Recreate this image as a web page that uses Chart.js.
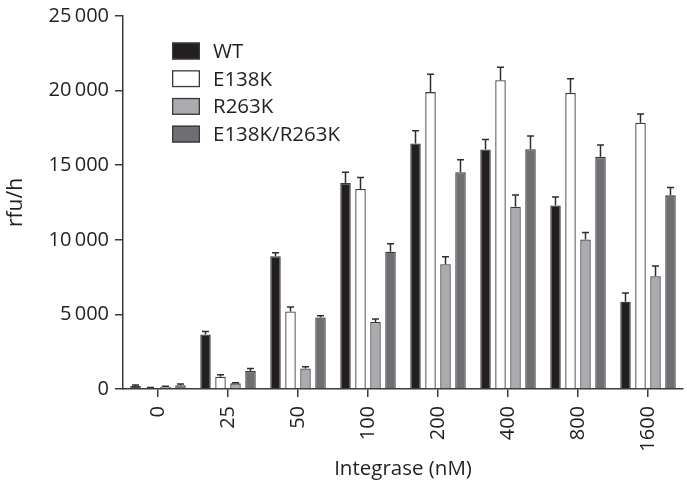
<!DOCTYPE html>
<html>
<head>
<meta charset="utf-8">
<script src="https://cdn.jsdelivr.net/npm/chart.js@4.4.1/dist/chart.umd.min.js"></script>
<style>
  html, body { margin: 0; padding: 0; background: #ffffff; }
  #wrap { position: relative; width: 687px; height: 482px; }
</style>
</head>
<body>
<div id="wrap"><canvas id="c" width="687" height="482"></canvas></div>
<script>
// ---- data ----
const categories = ['0', '25', '50', '100', '200', '400', '800', '1600'];
const seriesNames = ['WT', 'E138K', 'R263K', 'E138K/R263K'];
const wtValues     = [200, 3650, 8900, 13800, 16450, 16050, 12300, 5850];
const wtErrors     = [60, 200, 230, 730, 860, 680, 570, 590];
const e138kValues  = [70, 820, 5200, 13400, 19900, 20700, 19850, 17850];
const e138kErrors  = [30, 130, 290, 780, 1190, 860, 950, 590];
const r263kValues  = [150, 380, 1380, 4490, 8360, 12220, 10020, 7560];
const r263kErrors  = [30, 40, 110, 200, 510, 780, 470, 680];
const doubleValues = [250, 1200, 4800, 9200, 14530, 16070, 15560, 12980];
const doubleErrors = [80, 180, 110, 530, 830, 890, 800, 530];
const yTicks = [0, 5000, 10000, 15000, 20000, 25000];

const fills   = ['#231f20', '#ffffff', '#a9abae', '#6e6f72'];
const border  = '#3a3a3c';
const textCol = '#231f20';
const FONT = "'Open Sans', 'Noto Sans', sans-serif";

function fmt(v) {
  const s = String(Math.round(v));
  if (s.length <= 3) return s;
  return s.slice(0, s.length - 3) + '\u2009' + s.slice(s.length - 3);
}

const valueSets = [wtValues, e138kValues, r263kValues, doubleValues];
const errorSets = [wtErrors, e138kErrors, r263kErrors, doubleErrors];

const datasets = seriesNames.map((name, i) => ({
  label: name,
  data: valueSets[i],
  errors: errorSets[i],
  backgroundColor: fills[i],
  borderColor: border,
  borderWidth: 1.3,
  borderSkipped: 'bottom',
  categoryPercentage: 0.857,
  barPercentage: 0.7
}));

const errorBarPlugin = {
  id: 'errorBars',
  afterDatasetsDraw(chart) {
    const ctx = chart.ctx;
    const y = chart.scales.y;
    ctx.save();
    ctx.strokeStyle = '#2e2e30';
    ctx.lineWidth = 1.5;
    chart.data.datasets.forEach((ds, di) => {
      const meta = chart.getDatasetMeta(di);
      meta.data.forEach((bar, j) => {
        const v = ds.data[j];
        const e = ds.errors[j];
        const yTop = y.getPixelForValue(v + e);
        const yBase = y.getPixelForValue(v);
        const x = bar.x;
        ctx.beginPath();
        ctx.moveTo(x, yBase);
        ctx.lineTo(x, yTop);
        ctx.moveTo(x - 3.5, yTop);
        ctx.lineTo(x + 3.5, yTop);
        ctx.stroke();
      });
    });
    ctx.restore();
  }
};

const legendPlugin = {
  id: 'customLegend',
  afterDraw(chart) {
    const ctx = chart.ctx;
    ctx.save();
    const x0 = 172, y0 = 51, step = 27.7, bw = 28, bh = 17;
    ctx.font = "20.5px " + FONT;
    ctx.textBaseline = 'middle';
    ctx.textAlign = 'left';
    chart.data.datasets.forEach((ds, i) => {
      const yc = y0 + i * step;
      ctx.fillStyle = ds.backgroundColor;
      ctx.fillRect(x0, yc - bh / 2, bw, bh);
      ctx.strokeStyle = border;
      ctx.lineWidth = 1.3;
      ctx.strokeRect(x0 + 0.65, yc - bh / 2 + 0.65, bw - 1.3, bh - 1.3);
      ctx.fillStyle = textCol;
      ctx.fillText(ds.label, 213, yc + 1);
    });
    ctx.restore();
  }
};

new Chart(document.getElementById('c'), {
  type: 'bar',
  data: { labels: categories, datasets },
  plugins: [errorBarPlugin, legendPlugin],
  options: {
    responsive: false,
    animation: false,
    devicePixelRatio: 1,
    layout: { padding: { left: 0, right: 4, top: 14, bottom: 0 } },
    plugins: { legend: { display: false }, tooltip: { enabled: false } },
    scales: {
      x: {
        grid: { display: true, drawOnChartArea: false, offset: false, tickLength: 8, color: '#3a3a3c', lineWidth: 1.5 },
        border: { display: true, color: '#3a3a3c', width: 1.5 },
        ticks: { color: textCol, font: { size: 20, family: FONT }, minRotation: 90, maxRotation: 90, padding: 9 },
        title: { display: true, text: 'Integrase (nM)', color: textCol, font: { size: 20.5, family: FONT }, padding: { top: 2, bottom: 1 } },
        afterFit(scale) { scale.height = 93; }
      },
      y: {
        min: 0,
        max: 25000,
        afterBuildTicks(scale) { scale.ticks = yTicks.map(v => ({ value: v })); },
        grid: { display: true, drawOnChartArea: false, tickLength: 8, color: '#3a3a3c', lineWidth: 1.5 },
        border: { display: true, color: '#3a3a3c', width: 1.5 },
        ticks: { color: textCol, font: { size: 20, family: FONT, lineHeight: 1.0 }, padding: 6, callback: (v) => fmt(v) },
        title: { display: true, text: 'rfu/h', color: textCol, font: { size: 21, family: FONT }, padding: { top: 3, bottom: 0 } },
        afterFit(scale) { scale.width = 123; }
      }
    }
  }
});
</script>
</body>
</html>
